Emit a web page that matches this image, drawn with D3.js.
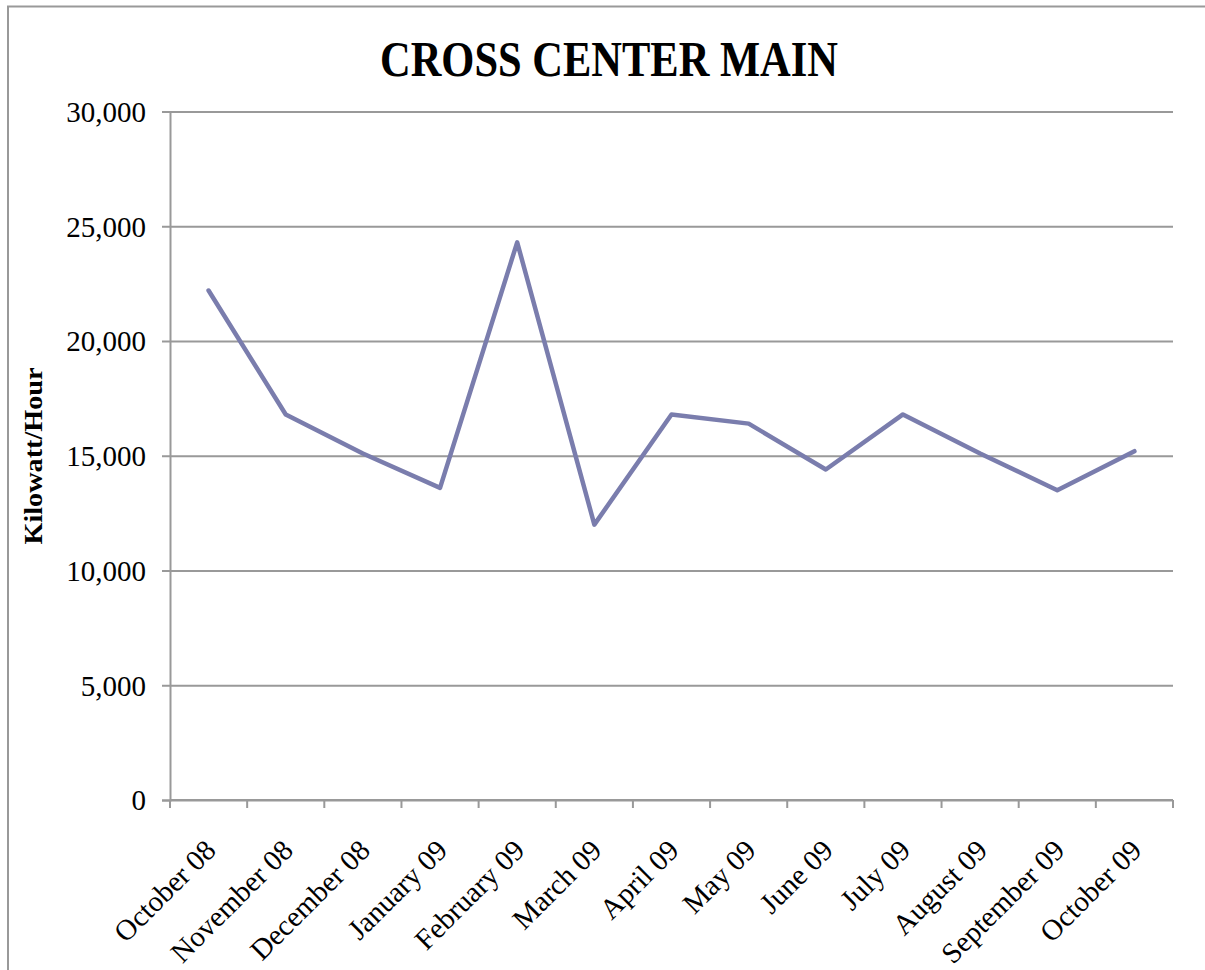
<!DOCTYPE html>
<html>
<head>
<meta charset="utf-8">
<script src="https://cdn.jsdelivr.net/npm/d3@7"></script>
<style>
    html, body { margin: 0; padding: 0; background: #fff; }
    svg { display: block; }
</style>
</head>
<body>
<svg id="chart" width="1205" height="970"></svg>
<script>
// months along the bottom
const months = ['October 08', 'November 08', 'December 08', 'January 09', 'February 09', 'March 09',
    'April 09', 'May 09', 'June 09', 'July 09', 'August 09', 'September 09', 'October 09'];

// kilowatt per hour
const kwh = [22200, 16800, 15100, 13600, 24300, 12000, 16800, 16400, 14400, 16800, 15100, 13500, 15200];

const yTicks = [0, 5000, 10000, 15000, 20000, 25000, 30000];

const svg = d3.select('#chart');

const plotLeft = 170,
    plotRight = 1173,
    plotTop = 111.5,
    plotBottom = 800;

const gridColor = '#999999',
    lineColor = '#7a7dad',
    serif = '"Liberation Serif", "Times New Roman", serif';

// outer frame, its right and bottom edges fall outside the page
svg.append('rect')
    .attr('x', 8)
    .attr('y', 6.5)
    .attr('width', 1300)
    .attr('height', 1100)
    .attr('fill', 'none')
    .attr('stroke', gridColor)
    .attr('stroke-width', 2);

const x = d3.scaleBand()
    .domain(months)
    .range([plotLeft, plotRight])
    .padding(0);

const y = d3.scaleLinear()
    .domain([0, 30000])
    .range([plotBottom, plotTop]);

// gridlines
svg.append('g')
    .attr('transform', `translate(${plotLeft},0)`)
    .call(d3.axisLeft(y).tickValues(yTicks).tickSize(-(plotRight - plotLeft)).tickFormat(''))
    .call(g => g.select('.domain').remove())
    .call(g => g.selectAll('line').attr('stroke', gridColor).attr('stroke-width', 2));

// y axis with tick marks and labels
svg.append('g')
    .attr('transform', `translate(${plotLeft},0)`)
    .call(d3.axisLeft(y).tickValues(yTicks).tickSize(8).tickPadding(16).tickFormat(d3.format(',')))
    .call(g => g.select('.domain').attr('stroke', gridColor).attr('stroke-width', 2))
    .call(g => g.selectAll('line').attr('stroke', gridColor).attr('stroke-width', 2))
    .call(g => g.selectAll('text')
        .attr('font-family', serif)
        .attr('font-size', 29)
        .attr('fill', '#000')
        .attr('dy', '0.34em'));

// x axis: line, ticks on the category boundaries, rotated labels
const xAxis = svg.append('g')
    .attr('transform', `translate(0,${plotBottom})`);

xAxis.append('line')
    .attr('x1', plotLeft)
    .attr('x2', plotRight)
    .attr('stroke', gridColor)
    .attr('stroke-width', 2);

xAxis.selectAll('line.tick')
    .data(months.concat(['end']))
    .join('line')
    .attr('class', 'tick')
    .attr('x1', d => d === 'end' ? plotRight : x(d))
    .attr('x2', d => d === 'end' ? plotRight : x(d))
    .attr('y1', 0)
    .attr('y2', 8)
    .attr('stroke', gridColor)
    .attr('stroke-width', 2);

xAxis.selectAll('text')
    .data(months)
    .join('text')
    .attr('transform', d => `translate(${x(d) + x.bandwidth() / 2 - 5},${38}) rotate(-45)`)
    .attr('dy', '0.68em')
    .attr('text-anchor', 'end')
    .attr('font-family', serif)
    .attr('font-size', 29)
    .text(d => d);

// the series
const line = d3.line()
    .x((d, i) => x(months[i]) + x.bandwidth() / 2)
    .y(d => y(d));

svg.append('path')
    .datum(kwh)
    .attr('d', line)
    .attr('fill', 'none')
    .attr('stroke', lineColor)
    .attr('stroke-width', 4.5)
    .attr('stroke-linejoin', 'round')
    .attr('stroke-linecap', 'round');

// title
svg.append('text')
    .attr('x', 609)
    .attr('y', 76)
    .attr('text-anchor', 'middle')
    .attr('font-family', serif)
    .attr('font-weight', 'bold')
    .attr('font-size', 50)
    .attr('textLength', 458)
    .attr('lengthAdjust', 'spacingAndGlyphs')
    .text('CROSS CENTER MAIN');

// axis title
svg.append('text')
    .attr('transform', 'translate(42,456) rotate(-90)')
    .attr('text-anchor', 'middle')
    .attr('font-family', serif)
    .attr('font-weight', 'bold')
    .attr('font-size', 25)
    .attr('textLength', 177)
    .attr('lengthAdjust', 'spacingAndGlyphs')
    .text('Kilowatt/Hour');
</script>
</body>
</html>
